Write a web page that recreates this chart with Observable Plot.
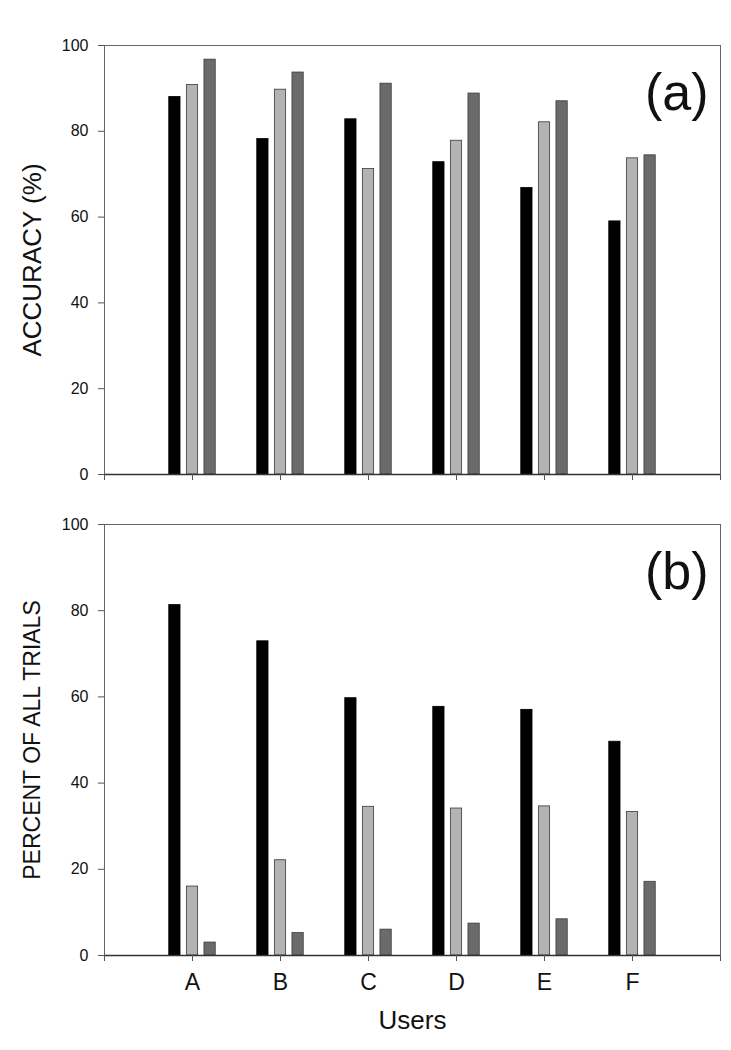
<!DOCTYPE html>
<html>
<head>
<meta charset="utf-8">
<script src="https://cdn.jsdelivr.net/npm/d3@7"></script>
<script src="https://cdn.jsdelivr.net/npm/@observablehq/plot@0.6"></script>
<style>
  html, body { margin: 0; padding: 0; background: #fff; }
  #chart { width: 731px; font-family: "Liberation Sans", Arial, sans-serif; }
  #chart svg { display: block; }
</style>
</head>
<body>
<div id="chart"></div>
<script>
// Categories
const users = ["A", "B", "C", "D", "E", "F"];
// Series names (three bars per user)
const seriesNames = ["black", "light", "dark"];
// Panel (a): accuracy (%)
const accBlack = [88.0, 78.2, 82.8, 72.8, 66.8, 59.0];
const accLight = [90.8, 89.7, 71.2, 77.8, 82.1, 73.7];
const accDark  = [96.7, 93.7, 91.1, 88.8, 87.0, 74.4];
// Panel (b): percent of all trials
const pctBlack = [81.3, 72.9, 59.7, 57.7, 57.0, 49.6];
const pctLight = [16.0, 22.1, 34.5, 34.1, 34.6, 33.3];
const pctDark  = [ 3.0,  5.2,  6.0,  7.4,  8.4, 17.1];
// Tick values
const yTicks = [0, 20, 40, 60, 80, 100];
const xTicks = [0, 1, 2, 3, 4, 5, 6, 7];
// Labels
const yLabelA = "ACCURACY (%)";
const yLabelB = "PERCENT OF ALL TRIALS";
const xLabel = "Users";
const panelA = "(a)";
const panelB = "(b)";

const fills = {black: "#000000", light: "#b3b3b3", dark: "#6b6b6b"};
const offsets = {black: -0.2, light: 0, dark: 0.2};
const halfW = 0.064;

function table(a, b, c) {
  const rows = [];
  const vals = [a, b, c];
  users.forEach((u, i) => {
    seriesNames.forEach((s, j) => {
      const pos = i + 1 + offsets[s];
      rows.push({user: u, series: s, x1: pos - halfW, x2: pos + halfW, value: vals[j][i]});
    });
  });
  return rows;
}

const font = '"Liberation Sans", Arial, sans-serif';

function panel({data, height, marginTop, marginBottom, yLabel, yLabelSize, tag, showX}) {
  const marks = [
    Plot.rectY(data, {
      x1: "x1", x2: "x2", y: "value",
      fill: d => fills[d.series],
      stroke: d => d.series === "black" ? "#000" : "#3a3a3a",
      strokeWidth: 0.8
    }),
    Plot.frame({stroke: "#666", strokeWidth: 1}),
    Plot.ruleY([0], {stroke: "#333", strokeWidth: 1.3}),
    Plot.axisY({ticks: yTicks, tickSize: 6, tickPadding: 10, fontSize: 16, label: null, stroke: "#555"}),
    Plot.axisX({
      ticks: xTicks, tickSize: 6, tickPadding: 12, fontSize: 23, label: null, stroke: "#555",
      tickFormat: d => showX ? (users[d - 1] ?? "") : ""
    }),
    Plot.text([yLabel], {frameAnchor: "left", textAnchor: "middle", lineAnchor: "middle", rotate: -90, dx: -72, fontSize: yLabelSize, fill: "#111"}),
    Plot.text([tag], {frameAnchor: "top-right", textAnchor: "end", lineAnchor: "middle", dx: -12, dy: 48, fontSize: 52, fill: "#111"})
  ];
  if (showX) {
    marks.push(Plot.text([xLabel], {frameAnchor: "bottom", lineAnchor: "middle", dy: 65, fontSize: 26, fill: "#111"}));
  }
  return Plot.plot({
    width: 731,
    height,
    marginLeft: 104,
    marginRight: 11,
    marginTop,
    marginBottom,
    style: {fontFamily: font, color: "#111", background: "#fff", overflow: "visible"},
    x: {type: "linear", domain: [0, 7]},
    y: {domain: [0, 100]},
    marks
  });
}

const el = document.getElementById("chart");
el.append(panel({data: table(accBlack, accLight, accDark), height: 490, marginTop: 45, marginBottom: 16, yLabel: yLabelA, yLabelSize: 26, tag: panelA, showX: false}));
el.append(panel({data: table(pctBlack, pctLight, pctDark), height: 560, marginTop: 34, marginBottom: 95, yLabel: yLabelB, yLabelSize: 23, tag: panelB, showX: true}));
</script>
</body>
</html>
